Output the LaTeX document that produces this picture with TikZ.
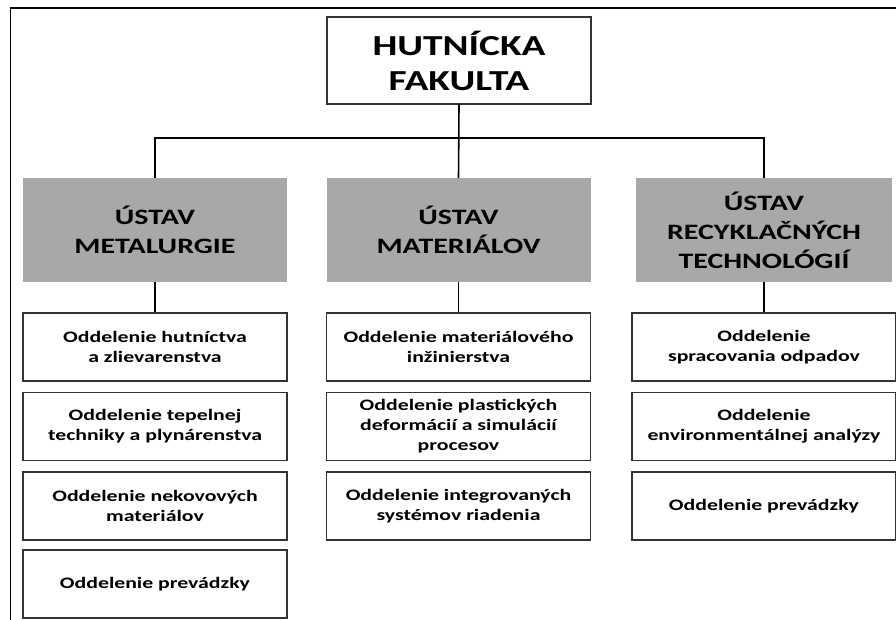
\documentclass[tikz,border=0pt]{standalone}
\usepackage{fontspec}
\setmainfont{Carlito}[FakeStretch=1.36]
\usetikzlibrary{positioning}
\definecolor{ustavgray}{RGB}{168,168,168}

\begin{document}
\begin{tikzpicture}[x=1pt,y=-1pt,
    line join=miter,
    fakbox/.style={draw=black!80,line width=1.1pt,fill=white,inner sep=0pt,align=center,
      minimum width=264pt,minimum height=87pt,font=\fontsize{29}{35}\selectfont\bfseries},
    ustavbox/.style={fill=ustavgray,inner sep=0pt,align=center,
      minimum width=264pt,minimum height=104pt,font=\fontsize{22}{29}\selectfont\bfseries},
    oddbox/.style={draw=black!80,line width=1.1pt,fill=white,inner sep=0pt,align=center,
      minimum width=264pt,minimum height=68pt,font=\fontsize{16}{20}\selectfont\bfseries},
    spoj/.style={draw=black,line width=1.6pt}]
  \useasboundingbox (0,0) rectangle (896,620);
  % ramik
  \draw[line width=1.1pt] (10.5,620) -- (10.5,8) -- (896,8);

  \node[fakbox] (fak) at (459,60.5) {HUTNÍCKA\\FAKULTA};

  \node[ustavbox] (um) at (155,230) {ÚSTAV\\METALURGIE};
  \node[ustavbox] (umat) at (458.5,230) {ÚSTAV\\MATERIÁLOV};
  \node[ustavbox,minimum width=256pt] (urec) at (764,230) {ÚSTAV\\RECYKLAČNÝCH\\TECHNOLÓGIÍ};

  % oddelenia
  \node[oddbox] (um1) at (155,347) {Oddelenie hutníctva\\a zlievarenstva};
  \node[oddbox] (um2) at (155,426.5) {Oddelenie tepelnej\\techniky a plynárenstva};
  \node[oddbox] (um3) at (155,506) {Oddelenie nekovových\\materiálov};
  \node[oddbox] (um4) at (155,584) {Oddelenie prevádzky};

  \node[oddbox] (umat1) at (458.5,347) {Oddelenie materiálového\\inžinierstva};
  \node[oddbox] (umat2) at (458.5,426.5) {Oddelenie plastických\\deformácií a simulácií\\procesov};
  \node[oddbox] (umat3) at (458.5,506) {Oddelenie integrovaných\\systémov riadenia};

  \node[oddbox] (urec1) at (764,347) {Oddelenie\\spracovania odpadov};
  \node[oddbox] (urec2) at (764,426.5) {Oddelenie\\environmentálnej analýzy};
  \node[oddbox] (urec3) at (764,506) {Oddelenie prevádzky};

  % spojnice
  \coordinate (bus) at (459,138);
  \draw[spoj] (fak.south) -- (umat.north);
  \draw[spoj] (um.north) |- (bus) -| (urec.north);
  \foreach \u in {um,umat,urec}
    \draw[spoj] (\u.south) -- (\u1.north);
\end{tikzpicture}
\end{document}
